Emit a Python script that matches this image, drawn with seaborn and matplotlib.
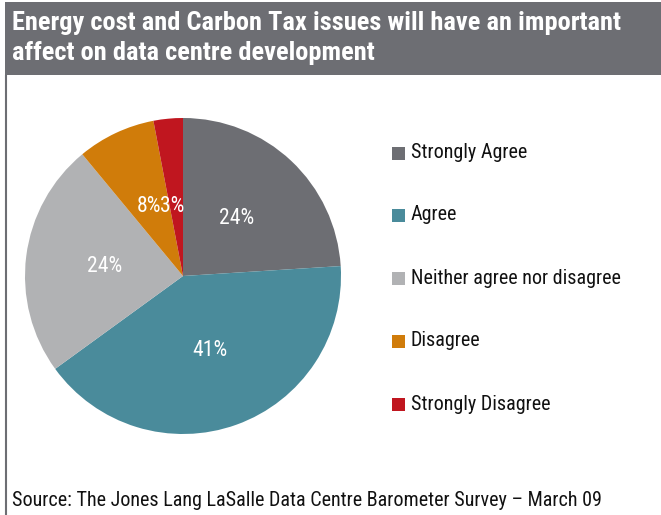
import matplotlib
matplotlib.use("Agg")
import matplotlib.pyplot as plt
import seaborn as sns
from matplotlib import font_manager
from matplotlib.patches import Rectangle
from matplotlib.lines import Line2D

sns.set_theme(style="white")
available = {f.name for f in font_manager.fontManager.ttflist}
cands = ['Liberation Sans Narrow', 'Arial Narrow', 'Roboto Condensed', 'DejaVu Sans Condensed',
         'Open Sans Condensed', 'Liberation Sans']
fam = [c for c in cands if c in available][:1] + ['DejaVu Sans']
plt.rcParams['font.family'] = fam

title_lines = ["Energy cost and Carbon Tax issues will have an important",
               "affect on data centre development"]
source = "Source: The Jones Lang LaSalle Data Centre Barometer Survey \u2013 March 09"
categories = ["Strongly Agree", "Agree", "Neither agree nor disagree", "Disagree", "Strongly Disagree"]
values = [24, 41, 24, 8, 3]
colors = ["#6d6e73", "#4a8b9b", "#b1b2b4", "#d07c0a", "#c0161f"]

W, H = 661, 515
fig = plt.figure(figsize=(W / 100, H / 100), dpi=100)
fig.patch.set_facecolor("white")
renderer = fig.canvas.get_renderer()


def fit(t, target_px, maxsize):
    t.set_fontsize(maxsize)
    w = t.get_window_extent(renderer).width
    if w > target_px:
        t.set_fontsize(maxsize * target_px / w)
    return t.get_fontsize()


# title bar
fig.patches.append(Rectangle((5 / W, 1 - 75 / H), 656 / W, 73 / H, transform=fig.transFigure,
                             facecolor="#6d6e73", edgecolor="none", zorder=0))
t1 = fig.text(12 / W, 1 - 23 / H, title_lines[0], color="white", fontweight="bold",
              va="center", ha="left")
fs = fit(t1, 608, 21)
fig.text(12 / W, 1 - 53 / H, title_lines[1], color="white", fontweight="bold",
         va="center", ha="left", fontsize=fs)
# left border line
fig.add_artist(Line2D([5.5 / W, 5.5 / W], [0, 1 - 75 / H], transform=fig.transFigure,
                      color="#6d6e73", lw=1.5))

# pie
cx, cy, r = 183, 276, 158
ax = fig.add_axes([(cx - r) / W, 1 - (cy + r) / H, 2 * r / W, 2 * r / H])
wedges, texts, autotexts = ax.pie(values, colors=colors, startangle=90, counterclock=False,
                                  autopct=lambda p: f"{p:.0f}%", pctdistance=0.5,
                                  wedgeprops=dict(linewidth=0))
pfs = fit(autotexts[0], 35, 17)
for t in autotexts:
    t.set_color("white")
    t.set_fontsize(pfs)
# avoid overlap of the two small slices' labels (placed side by side, as in the source)
x8, y8 = autotexts[3].get_position()
x3, y3 = autotexts[4].get_position()
autotexts[4].set_position((x3 - 0.02, y8 - 0.01))
autotexts[3].set_position((x8, y8 - 0.01))
ax.set_aspect("equal")
ax.set_xlim(-1, 1)
ax.set_ylim(-1, 1)

# legend
ys = [153, 215, 278, 341, 404]
ltexts = []
for lab, col, y in zip(categories, colors, ys):
    fig.patches.append(Rectangle((392 / W, 1 - (y + 7) / H), 13 / W, 13 / H,
                                 transform=fig.transFigure, facecolor=col, edgecolor="none"))
    ltexts.append(fig.text(411 / W, 1 - y / H, lab, color="#111111", va="center", ha="left"))
lfs = fit(ltexts[2], 211, 15)
for t in ltexts:
    t.set_fontsize(lfs)

st = fig.text(12 / W, 1 - 500 / H, source, color="#111111", va="center", ha="left")
fit(st, 591, 15)

fig.savefig("out.png", dpi=100, facecolor="white")
